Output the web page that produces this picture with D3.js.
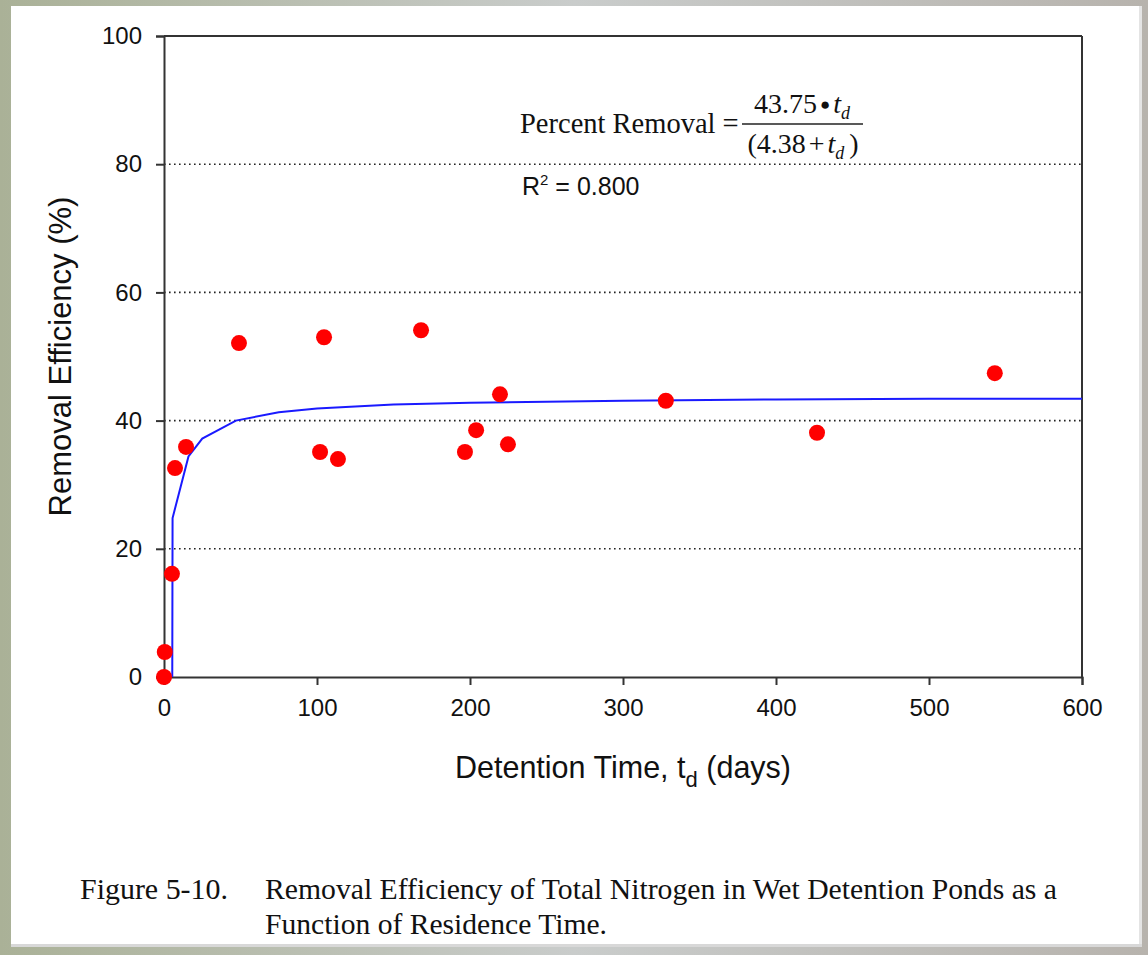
<!DOCTYPE html>
<html>
<head>
<meta charset="utf-8">
<script src="https://cdn.jsdelivr.net/npm/d3@7"></script>
<style>
  html, body { margin: 0; padding: 0; background: #b9bcae; }
  svg { display: block; }
</style>
</head>
<body>
<svg id="chart" width="1148" height="955"></svg>
<script>
// observed points (detention time in days, removal %)
const detentionDays = [0, 0.5, 5.2, 7.2, 14.4, 49, 102, 104.6, 113.7, 168, 196.7, 204, 219.6, 224.8, 328, 426.8, 543];
const removalPct    = [0, 3.9, 16.1, 32.6, 35.9, 52.1, 35.1, 53.0, 34.0, 54.1, 35.1, 38.5, 44.1, 36.3, 43.1, 38.1, 47.4];

// fitted curve as drawn (vertical start, then the saturating fit)
const fitDays = [5.4, 5.6, 16, 25, 47, 75, 100, 150, 200, 300, 400, 500, 600];
const fitPct  = [0, 24.8, 34.4, 37.2, 40.0, 41.3, 41.9, 42.5, 42.8, 43.1, 43.3, 43.4, 43.4];

const xTicks = [0, 100, 200, 300, 400, 500, 600];
const yTicks = [0, 20, 40, 60, 80, 100];
const gridTicks = [20, 40, 60, 80];

const svg = d3.select("#chart");

// page look: grey surround with white sheet
const defs = svg.append("defs");
const grad = defs.append("linearGradient").attr("id", "bg").attr("x1", 0).attr("x2", 1).attr("y1", 0).attr("y2", 0);
grad.append("stop").attr("offset", "0%").attr("stop-color", "#aab197");
grad.append("stop").attr("offset", "50%").attr("stop-color", "#c9cccb");
grad.append("stop").attr("offset", "100%").attr("stop-color", "#b7b3ad");
svg.append("rect").attr("width", 1148).attr("height", 955).attr("fill", "url(#bg)");
svg.append("rect").attr("x", 11).attr("y", 6).attr("width", 1128).attr("height", 940).attr("fill", "#fff");
svg.append("rect").attr("x", 1139).attr("y", 6).attr("width", 3).attr("height", 940).attr("fill", "#e4e4e4");
svg.append("rect").attr("x", 11).attr("y", 944).attr("width", 1131).attr("height", 3).attr("fill", "#d8d8d8");

const plotL = 164, plotR = 1082, plotT = 36, plotB = 677;
const x = d3.scaleLinear().domain([0, 600]).range([plotL, plotR]);
const y = d3.scaleLinear().domain([0, 100]).range([plotB, plotT]);

const sans = "'Liberation Sans', Arial, sans-serif";
const serif = "'Liberation Serif', 'Times New Roman', serif";

// dotted gridlines
svg.append("g").selectAll("line").data(gridTicks).enter().append("line")
  .attr("x1", plotL).attr("x2", plotR)
  .attr("y1", d => y(d)).attr("y2", d => y(d))
  .attr("stroke", "#222").attr("stroke-width", 1.6)
  .attr("stroke-dasharray", "1.6,3.4");

// axes
const yAxis = svg.append("g").attr("transform", `translate(${plotL},0)`)
  .call(d3.axisLeft(y).tickValues(yTicks).tickSize(8).tickPadding(14));
const xAxis = svg.append("g").attr("transform", `translate(0,${plotB})`)
  .call(d3.axisBottom(x).tickValues(xTicks).tickSize(8).tickPadding(14));
[yAxis, xAxis].forEach(g => {
  g.select(".domain").attr("stroke", "#333").attr("stroke-width", 2);
  g.selectAll(".tick line").attr("stroke", "#333").attr("stroke-width", 2);
  g.selectAll(".tick text").attr("font-family", sans).attr("font-size", 24).attr("fill", "#111");
});

// top and right frame
svg.append("line").attr("x1", plotL).attr("x2", plotR).attr("y1", plotT).attr("y2", plotT)
  .attr("stroke", "#333").attr("stroke-width", 2);
svg.append("line").attr("x1", plotR).attr("x2", plotR).attr("y1", plotT).attr("y2", plotB)
  .attr("stroke", "#333").attr("stroke-width", 2);

// fitted curve
const line = d3.line().x(d => x(d[0])).y(d => y(d[1]));
svg.append("path")
  .datum(fitDays.map((t, i) => [t, fitPct[i]]))
  .attr("d", line)
  .attr("fill", "none").attr("stroke", "#1a1aff").attr("stroke-width", 2);

// data points
svg.append("g").selectAll("circle")
  .data(detentionDays.map((t, i) => [t, removalPct[i]]))
  .enter().append("circle")
  .attr("cx", d => x(d[0])).attr("cy", d => y(d[1]))
  .attr("r", 8).attr("fill", "#ff0000");

// axis titles
svg.append("text")
  .attr("transform", `translate(71,${(plotT + plotB) / 2}) rotate(-90)`)
  .attr("text-anchor", "middle").attr("font-family", sans).attr("font-size", 31).attr("fill", "#111")
  .text("Removal Efficiency (%)");

const xt = svg.append("text")
  .attr("x", 623).attr("y", 778)
  .attr("text-anchor", "middle").attr("font-family", sans).attr("font-size", 30.5).attr("fill", "#111");
xt.append("tspan").text("Detention Time, t");
xt.append("tspan").attr("font-size", 22).attr("dy", 9).text("d");
xt.append("tspan").attr("dy", -9).text(" (days)");

// equation
svg.append("text").attr("x", 520).attr("y", 133)
  .attr("font-family", serif).attr("font-size", 28.5).attr("fill", "#111")
  .text("Percent Removal =");
const num = svg.append("text").attr("x", 802).attr("y", 113).attr("text-anchor", "middle")
  .attr("font-family", serif).attr("font-size", 28).attr("fill", "#111");
num.append("tspan").text("43.75");
num.append("tspan").attr("font-size", 17).attr("dx", 3).attr("dy", -3).text("\u25CF");
num.append("tspan").attr("font-style", "italic").attr("dx", 3).attr("dy", 3).text("t");
num.append("tspan").attr("font-style", "italic").attr("font-size", 18).attr("dy", 6).text("d");
svg.append("line").attr("x1", 742).attr("x2", 863).attr("y1", 124).attr("y2", 124)
  .attr("stroke", "#222").attr("stroke-width", 1.6);
const den = svg.append("text").attr("x", 803).attr("y", 153).attr("text-anchor", "middle")
  .attr("font-family", serif).attr("font-size", 28).attr("fill", "#111");
den.append("tspan").text("(4.38");
den.append("tspan").attr("dx", 3).text("+");
den.append("tspan").attr("font-style", "italic").attr("dx", 3).text("t");
den.append("tspan").attr("font-style", "italic").attr("font-size", 18).attr("dy", 6).text("d");
den.append("tspan").attr("dx", 5).attr("dy", -6).text(")");

const r2 = svg.append("text").attr("x", 522).attr("y", 195)
  .attr("font-family", sans).attr("font-size", 25).attr("fill", "#111");
r2.append("tspan").text("R");
r2.append("tspan").attr("font-size", 15).attr("dy", -10).text("2");
r2.append("tspan").attr("dy", 10).text(" = 0.800");

// caption
svg.append("text").attr("x", 80).attr("y", 899)
  .attr("font-family", serif).attr("font-size", 30).attr("fill", "#111")
  .attr("textLength", 148).attr("lengthAdjust", "spacingAndGlyphs")
  .text("Figure 5-10.");
svg.append("text").attr("x", 265).attr("y", 899)
  .attr("font-family", serif).attr("font-size", 30).attr("fill", "#111")
  .attr("textLength", 792).attr("lengthAdjust", "spacingAndGlyphs")
  .text("Removal Efficiency of Total Nitrogen in Wet Detention Ponds as a");
svg.append("text").attr("x", 265).attr("y", 934)
  .attr("font-family", serif).attr("font-size", 30).attr("fill", "#111")
  .attr("textLength", 342).attr("lengthAdjust", "spacingAndGlyphs")
  .text("Function of Residence Time.");
</script>
</body>
</html>
